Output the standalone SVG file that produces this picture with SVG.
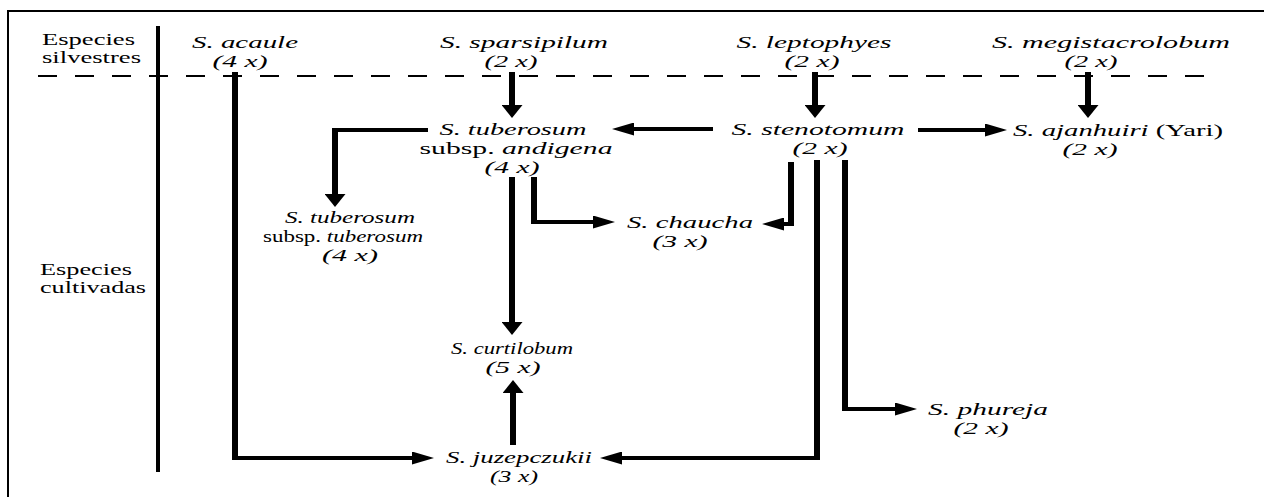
<svg xmlns="http://www.w3.org/2000/svg" width="1264" height="497" viewBox="0 0 1264 497">
<style>
text{font-family:"Liberation Serif","DejaVu Serif",serif;font-size:17px;fill:#000}
.sp{font-style:italic}
.rm{font-style:normal}
.c{text-anchor:middle}
.v{stroke:#000;stroke-width:6;fill:none}
.h{stroke:#000;stroke-width:4;fill:none}
.frame{stroke:#000;stroke-width:2;fill:none}
</style>
<defs>
<marker id="mv" markerUnits="userSpaceOnUse" markerWidth="13" markerHeight="21" viewBox="0 0 13 21" refX="0" refY="10.5" orient="auto"><path d="M0,0 L13,10.5 L0,21 z" fill="#000"/></marker>
<marker id="mh" markerUnits="userSpaceOnUse" markerWidth="22" markerHeight="13" viewBox="0 0 22 13" refX="0" refY="6.5" orient="auto"><path d="M0,0 L22,6.5 L0,13 z" fill="#000"/></marker>
</defs>
<rect width="1264" height="497" fill="#fff"/>
<g id="frame">
<path class="frame" d="M8,497 V11 H1264"/>
<line x1="158" y1="26" x2="158" y2="472" stroke="#000" stroke-width="4"/>
<line x1="38" y1="76" x2="1214" y2="76" stroke="#000" stroke-width="2" stroke-dasharray="19 18"/>
</g>
<g id="labels">
<text x="42" y="45" textLength="93" lengthAdjust="spacingAndGlyphs">Especies</text>
<text x="42" y="63" textLength="99" lengthAdjust="spacingAndGlyphs">silvestres</text>
<text x="40" y="275" textLength="92" lengthAdjust="spacingAndGlyphs">Especies</text>
<text x="40" y="293" textLength="106" lengthAdjust="spacingAndGlyphs">cultivadas</text>
</g>
<g id="connectors">
<line class="v" x1="512" y1="72" x2="512" y2="105" marker-end="url(#mv)"/>
<line class="v" x1="815" y1="72" x2="815" y2="105" marker-end="url(#mv)"/>
<line class="v" x1="1088" y1="72" x2="1088" y2="105" marker-end="url(#mv)"/>
<line class="h" x1="713" y1="129" x2="634" y2="129" marker-end="url(#mh)"/>
<line class="h" x1="918" y1="130" x2="985" y2="130" marker-end="url(#mh)"/>
<line class="h" x1="428" y1="130" x2="332" y2="130"/>
<line class="v" x1="335" y1="128" x2="335" y2="194" marker-end="url(#mv)"/>
<line class="v" x1="512" y1="177" x2="512" y2="322" marker-end="url(#mv)"/>
<line class="v" x1="534" y1="177" x2="534" y2="224"/>
<line class="h" x1="531" y1="222" x2="593" y2="222" marker-end="url(#mh)"/>
<line class="v" x1="791" y1="162" x2="791" y2="226"/>
<line class="h" x1="794" y1="224" x2="784" y2="224" marker-end="url(#mh)"/>
<line class="v" x1="817" y1="160" x2="817" y2="460"/>
<line class="h" x1="820" y1="458" x2="622" y2="458" marker-end="url(#mh)"/>
<line class="v" x1="845" y1="160" x2="845" y2="411"/>
<line class="h" x1="842" y1="409" x2="895" y2="409" marker-end="url(#mh)"/>
<line class="v" x1="513" y1="445" x2="513" y2="393" marker-end="url(#mv)"/>
<line class="v" x1="235" y1="72" x2="235" y2="460"/>
<line class="h" x1="232" y1="458" x2="412" y2="458" marker-end="url(#mh)"/>
</g>
<g id="acaule">
<text class="sp c" x="245" y="48" textLength="106" lengthAdjust="spacingAndGlyphs">S. acaule</text>
<text class="sp c" x="240" y="67" textLength="55" lengthAdjust="spacingAndGlyphs">(4 x)</text>
</g>
<g id="sparsipilum">
<text class="sp c" x="524" y="48" textLength="168" lengthAdjust="spacingAndGlyphs">S. sparsipilum</text>
<text class="sp c" x="511" y="67" textLength="53" lengthAdjust="spacingAndGlyphs">(2 x)</text>
</g>
<g id="leptophyes">
<text class="sp c" x="814" y="48" textLength="155" lengthAdjust="spacingAndGlyphs">S. leptophyes</text>
<text class="sp c" x="812" y="67" textLength="55" lengthAdjust="spacingAndGlyphs">(2 x)</text>
</g>
<g id="megistacrolobum">
<text class="sp c" x="1111" y="48" textLength="238" lengthAdjust="spacingAndGlyphs">S. megistacrolobum</text>
<text class="sp c" x="1091" y="67" textLength="53" lengthAdjust="spacingAndGlyphs">(2 x)</text>
</g>
<g id="andigena">
<text class="sp c" x="513" y="135" textLength="147" lengthAdjust="spacingAndGlyphs">S. tuberosum</text>
<text class="c" x="516" y="154" textLength="193" lengthAdjust="spacingAndGlyphs"><tspan class="rm">subsp.</tspan><tspan class="sp"> andigena</tspan></text>
<text class="sp c" x="512" y="173" textLength="55" lengthAdjust="spacingAndGlyphs">(4 x)</text>
</g>
<g id="stenotomum">
<text class="sp c" x="818" y="135" textLength="173" lengthAdjust="spacingAndGlyphs">S. stenotomum</text>
<text class="sp c" x="820" y="154" textLength="55" lengthAdjust="spacingAndGlyphs">(2 x)</text>
</g>
<g id="ajanhuiri">
<text class="c" x="1118" y="136" textLength="210" lengthAdjust="spacingAndGlyphs"><tspan class="sp">S. ajanhuiri</tspan><tspan class="rm"> (Yari)</tspan></text>
<text class="sp c" x="1090" y="155" textLength="55" lengthAdjust="spacingAndGlyphs">(2 x)</text>
</g>
<g id="tuberosum">
<text class="sp c" x="350" y="223" textLength="130" lengthAdjust="spacingAndGlyphs">S. tuberosum</text>
<text class="c" x="343" y="242" textLength="160" lengthAdjust="spacingAndGlyphs"><tspan class="rm">subsp.</tspan><tspan class="sp"> tuberosum</tspan></text>
<text class="sp c" x="350" y="261" textLength="56" lengthAdjust="spacingAndGlyphs">(4 x)</text>
</g>
<g id="chaucha">
<text class="sp c" x="690" y="228" textLength="126" lengthAdjust="spacingAndGlyphs">S. chaucha</text>
<text class="sp c" x="680" y="247" textLength="55" lengthAdjust="spacingAndGlyphs">(3 x)</text>
</g>
<g id="curtilobum">
<text class="sp c" x="512" y="354" textLength="122" lengthAdjust="spacingAndGlyphs">S. curtilobum</text>
<text class="sp c" x="513" y="373" textLength="55" lengthAdjust="spacingAndGlyphs">(5 x)</text>
</g>
<g id="phureja">
<text class="sp c" x="988" y="415" textLength="120" lengthAdjust="spacingAndGlyphs">S. phureja</text>
<text class="sp c" x="981" y="434" textLength="55" lengthAdjust="spacingAndGlyphs">(2 x)</text>
</g>
<g id="juzepczukii">
<text class="sp c" x="519" y="463" textLength="146" lengthAdjust="spacingAndGlyphs">S. juzepczukii</text>
<text class="sp c" x="514" y="482" textLength="48" lengthAdjust="spacingAndGlyphs">(3 x)</text>
</g>
</svg>
